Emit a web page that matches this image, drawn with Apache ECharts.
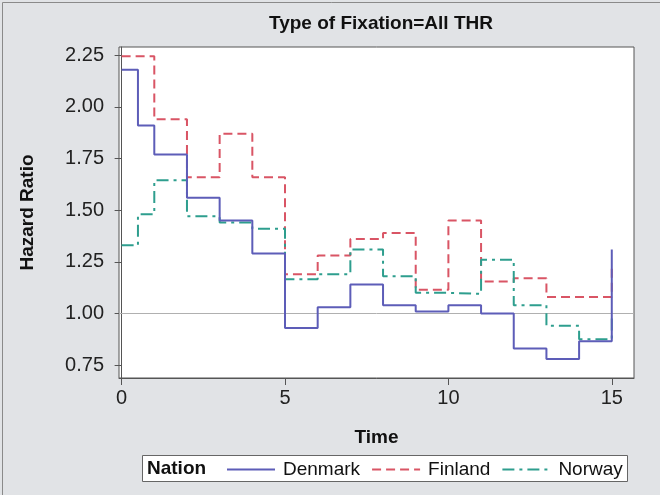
<!DOCTYPE html>
<html>
<head>
<meta charset="utf-8">
<script src="https://cdn.jsdelivr.net/npm/echarts@6/dist/echarts.min.js"></script>
<style>
html,body{margin:0;padding:0;background:#e1e3e6;}
#c{width:660px;height:495px;}
</style>
</head>
<body>
<div id="c"></div>
<script>
// ---- data ----
var denmarkTime  = [0, 0.5, 1, 2, 3, 4, 5, 6, 7, 8, 9, 10, 11, 12, 13, 14, 15];
var denmarkHR    = [2.18, 1.91, 1.77, 1.56, 1.45, 1.29, 0.93, 1.03, 1.14, 1.04, 1.01, 1.04, 1.00, 0.83, 0.78, 0.865, 1.31];
var finlandTime  = [0, 1, 2, 3, 4, 5, 6, 7, 8, 9, 10, 11, 12, 13, 15];
var finlandHR    = [2.245, 1.94, 1.66, 1.87, 1.66, 1.19, 1.28, 1.36, 1.39, 1.115, 1.45, 1.155, 1.17, 1.08, 1.24];
var norwayTime   = [0, 0.5, 1, 2, 3, 4, 5, 6, 7, 8, 9, 10, 11, 12, 13, 14, 15];
var norwayHR     = [1.33, 1.48, 1.645, 1.47, 1.44, 1.41, 1.165, 1.19, 1.31, 1.18, 1.10, 1.095, 1.26, 1.04, 0.94, 0.875, 0.98];
var yTicks = [0.75, 1.00, 1.25, 1.50, 1.75, 2.00, 2.25];
var xTicks = [0, 5, 10, 15];

function pairs(t, v){ return t.map(function(x,i){ return [x, v[i]]; }); }

var font = '"Liberation Sans", Arial, sans-serif';
var chart = echarts.init(document.getElementById('c'), null, {renderer:'canvas'});
chart.setOption({
  backgroundColor: '#e1e3e6',
  animation: false,
  title: {
    text: 'Type of Fixation=All THR',
    left: 264, top: 9,
    textStyle: {fontFamily: font, fontSize: 19, fontWeight: 'bold', color: '#111'}
  },
  grid: {left: 119, top: 47, right: 26, bottom: 117, show: true, borderColor: '#555', borderWidth: 1, backgroundColor: '#fff'},
  xAxis: {
    type: 'value', min: -0.08, max: 15.68,
    name: 'Time', nameLocation: 'middle', nameGap: 50,
    nameTextStyle: {fontFamily: font, fontSize: 19, fontWeight: 'bold', color: '#111'},
    axisLine: {show: true, lineStyle: {color: '#555'}},
    axisTick: {show: true, length: 7, lineStyle: {color: '#555'}, customValues: xTicks},
    axisLabel: {customValues: xTicks, fontFamily: font, fontSize: 20, color: '#222', margin: 10},
    splitLine: {show: false}
  },
  yAxis: {
    type: 'value', min: 0.6875, max: 2.29,
    name: 'Hazard Ratio', nameLocation: 'middle', nameGap: 82, nameRotate: 90,
    nameTextStyle: {fontFamily: font, fontSize: 19, fontWeight: 'bold', color: '#111'},
    axisLine: {show: true, lineStyle: {color: '#555'}},
    axisTick: {show: true, length: 7, lineStyle: {color: '#555'}, customValues: yTicks},
    axisLabel: {customValues: yTicks, fontFamily: font, fontSize: 20, color: '#222', margin: 15,
      formatter: function(v){ return v.toFixed(2); }},
    splitLine: {show: false}
  },
  legend: {
    left: 221, top: 455, itemWidth: 48, itemHeight: 12, itemGap: 11,
    itemStyle: {opacity: 0},
    textStyle: {fontFamily: font, fontSize: 19, color: '#111', padding: [0, 0, 0, 3]},
    data: ['Denmark', 'Finland', 'Norway']
  },
  graphic: [
    {type: 'rect', left: 0, top: 0, z: 100, silent: true,
     shape: {x: 0.5, y: 0.5, width: 659, height: 494},
     style: {fill: 'none', stroke: '#8a8a8a', lineWidth: 1}},
    {type: 'rect', z: 0, silent: true,
     shape: {x: 142.5, y: 455.5, width: 485, height: 26},
     style: {fill: '#fff', stroke: '#666', lineWidth: 1}},
    {type: 'text', x: 147, y: 469, z: 1,
     style: {text: 'Nation', fontFamily: font, fontSize: 19, fontWeight: 'bold', fill: '#111', verticalAlign: 'middle'}}
  ],
  series: [
    {name: 'Denmark', type: 'line', step: 'end', symbol: 'none', data: pairs(denmarkTime, denmarkHR),
     lineStyle: {color: '#5d5db8', width: 2}, itemStyle: {color: '#5d5db8'}, z: 3,
     markLine: {silent: true, symbol: 'none', label: {show: false},
       lineStyle: {color: '#b0b0b0', width: 1, type: 'solid'}, data: [{yAxis: 1}], z: 1}},
    {name: 'Finland', type: 'line', step: 'end', symbol: 'none', data: pairs(finlandTime, finlandHR),
     lineStyle: {color: '#d95565', width: 2, type: [9, 5]}, itemStyle: {color: '#d95565'}, z: 2},
    {name: 'Norway', type: 'line', step: 'end', symbol: 'none', data: pairs(norwayTime, norwayHR),
     lineStyle: {color: '#2e9e8e', width: 2, type: [12, 5, 3, 5]}, itemStyle: {color: '#2e9e8e'}, z: 2}
  ]
});
</script>
</body>
</html>
